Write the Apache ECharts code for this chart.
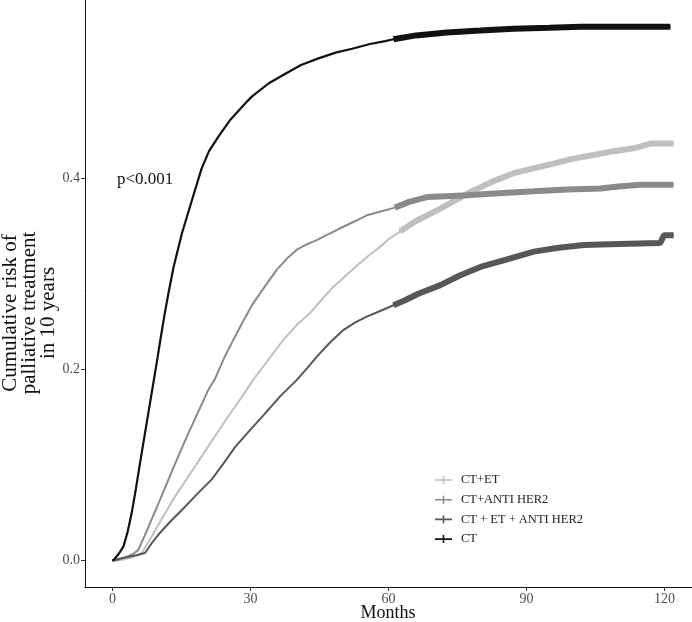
<!DOCTYPE html>
<html><head><meta charset="utf-8">
<script src="https://cdn.jsdelivr.net/npm/echarts@6/dist/echarts.min.js"></script>
<style>html,body{margin:0;padding:0;background:#fff}#c{width:692px;height:622px}</style>
</head><body><div id="c"></div>
<script>
const seriesNames = ['CT+ET', 'CT+ANTI HER2', 'CT + ET + ANTI HER2', 'CT'];
const seriesColors = ['#bfbfbf', '#8a8a8a', '#575757', '#111111'];
const xTicks = [0, 30, 60, 90, 120];
const yTicks = [0, 0.2, 0.4];
const censorStart = 61;

const ctEtMonths = [0,2,4,6.4,8.5,11,13.6,16.5,19.4,22.3,25.2,28.4,30.6,33.9,37.2,40,43,45.5,48,51,53.8,56,58.2,60.3,62.5,66,71.3,75,78.5,83,87.2,91.5,95.9,100,104.6,109,113.3,117,122];
const ctEtRisk   = [0,0.001,0.003,0.008,0.025,0.046,0.067,0.088,0.109,0.13,0.151,0.173,0.189,0.21,0.231,0.246,0.259,0.273,0.286,0.299,0.311,0.32,0.328,0.337,0.344,0.355,0.368,0.378,0.387,0.397,0.405,0.41,0.415,0.42,0.424,0.428,0.431,0.436,0.436];

const ctHerMonths = [0,1.3,3,4.5,5.6,7,8.5,10.3,12.2,14.3,16.5,18.7,20.9,22.3,24.2,26.3,28.5,30.6,33.2,35.7,38,40.1,42,44.4,47.3,50.2,52.8,55.3,58.3,61.4,64.5,68.4,72.5,77.1,84,91.6,99,106.1,110,114.8,122];
const ctHerRisk   = [0,0.001,0.004,0.007,0.011,0.026,0.043,0.063,0.085,0.109,0.133,0.156,0.179,0.19,0.211,0.231,0.251,0.269,0.287,0.304,0.316,0.325,0.33,0.335,0.342,0.349,0.355,0.361,0.365,0.369,0.375,0.38,0.381,0.382,0.384,0.386,0.388,0.389,0.391,0.393,0.393];

const ctEtHerMonths = [0,1.5,3.5,5.5,7.1,8.5,10.5,12.8,15.1,18.3,21.6,24.2,26.7,30,33.2,36.5,40.1,42.3,44.4,47.3,50.2,52.8,55.3,58.2,61.1,63.5,66.5,71.3,75.5,80,85.8,91.6,97,102.5,110,119.1,119.9,122];
const ctEtHerRisk   = [0,0.002,0.004,0.006,0.008,0.018,0.03,0.042,0.053,0.069,0.085,0.102,0.119,0.137,0.154,0.172,0.189,0.201,0.213,0.228,0.241,0.249,0.255,0.261,0.267,0.272,0.279,0.288,0.298,0.307,0.315,0.323,0.327,0.33,0.331,0.332,0.34,0.34];

const ctMonths = [0,0.5,1.5,2.4,3.3,4.2,5.1,6,6.9,7.8,8.7,9.6,10.5,11.4,12.2,13.3,15.1,17.3,19.4,21,23,25.5,28.9,30.3,34,37.6,41,44.8,48.5,52.1,56,59.3,61.1,66,72.7,80,87.2,95,101.7,110,121.3];
const ctRisk   = [0,0.002,0.008,0.015,0.03,0.05,0.075,0.102,0.128,0.154,0.18,0.206,0.233,0.259,0.28,0.307,0.342,0.377,0.41,0.428,0.443,0.46,0.478,0.485,0.499,0.509,0.518,0.525,0.531,0.535,0.54,0.543,0.545,0.549,0.552,0.554,0.556,0.557,0.558,0.558,0.558];

const allMonths = [ctEtMonths, ctHerMonths, ctEtHerMonths, ctMonths];
const allRisk = [ctEtRisk, ctHerRisk, ctEtHerRisk, ctRisk];

const FONT = '"Liberation Serif", "Times New Roman", serif';
const series = [];
seriesNames.forEach((name, i) => {
  const pts = allMonths[i].map((m, k) => [m, allRisk[i][k]]);
  series.push({
    name, type: 'line', data: pts, showSymbol: false, silent: true,
    color: seriesColors[i], lineStyle: {width: i === 3 ? 2.2 : 2, color: seriesColors[i]},
    z: 2 + i, animation: false
  });
  series.push({
    name, type: 'line', data: pts.filter(p => p[0] >= censorStart), showSymbol: false, silent: true,
    color: seriesColors[i], lineStyle: {width: 6, color: seriesColors[i], cap: 'butt'},
    z: 2 + i, animation: false
  });
});

const chart = echarts.init(document.getElementById('c'), null, {renderer: 'canvas'});
chart.setOption({
  backgroundColor: '#fff',
  animation: false,
  grid: {left: 85, right: 0, top: 0, bottom: 35, containLabel: false, outerBoundsMode: 'none'},
  xAxis: {
    type: 'value', min: -5.96, max: 126,
    axisLine: {show: true, onZero: false, lineStyle: {color: '#111', width: 1}},
    axisTick: {show: true, customValues: xTicks, length: 4, lineStyle: {color: '#333'}},
    axisLabel: {customValues: xTicks, fontFamily: FONT, fontSize: 14, color: '#4d4d4d', margin: 5},
    splitLine: {show: false}
  },
  yAxis: {
    type: 'value', min: -0.0275, max: 0.586,
    axisLine: {show: true, onZero: false, lineStyle: {color: '#111', width: 1}},
    axisTick: {show: true, customValues: yTicks, length: 4, lineStyle: {color: '#333'}},
    axisLabel: {customValues: yTicks, fontFamily: FONT, fontSize: 14, color: '#4d4d4d', margin: 5,
      formatter: v => v.toFixed(1)},
    splitLine: {show: false}
  },
  legend: {
    data: seriesNames, orient: 'vertical', left: 435, top: 473, padding: 0,
    itemWidth: 17, itemHeight: 8, itemGap: 5.7, selectedMode: false,
    icon: 'path://M0,3.2h17v1.6h-17z M7.7,0h1.6v8h-1.6z',
    textStyle: {fontFamily: FONT, fontSize: 12.5, color: '#222', lineHeight: 14, padding: [0,0,0,4]}
  },
  graphic: [
    {type: 'text', x: 29, y: 313, rotation: Math.PI / 2,
     style: {text: 'Cumulative risk of\npalliative treatment\nin 10 years', font: '21px ' + FONT,
       align: 'center', verticalAlign: 'middle', lineHeight: 19, fill: '#111'}},
    {type: 'text', x: 117, y: 180,
     style: {text: 'p<0.001', font: '17px ' + FONT, align: 'left', verticalAlign: 'middle', fill: '#111'}},
    {type: 'text', x: 388, y: 613,
     style: {text: 'Months', font: '18px ' + FONT, align: 'center', verticalAlign: 'middle', fill: '#111'}}
  ],
  series
});
</script></body></html>
